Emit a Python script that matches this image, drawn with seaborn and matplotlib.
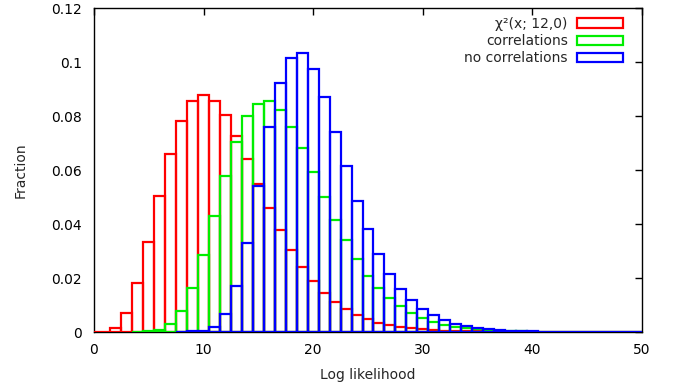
import matplotlib
matplotlib.use("Agg")
import matplotlib.pyplot as plt
from matplotlib.patches import Patch
import seaborn as sns
import pandas as pd

# ---- data (bin centres are integers, bin width 1) ----
red_start = 0
red_vals = [0.0, 0.0001, 0.0015, 0.0071, 0.0180, 0.0334, 0.0504, 0.0661, 0.0781, 0.0854,
            0.0877, 0.0857, 0.0803, 0.0727, 0.0639, 0.0547, 0.0458, 0.0376, 0.0304, 0.0241,
            0.0189, 0.0146, 0.0112, 0.0085, 0.0064, 0.0047, 0.0035, 0.0026, 0.0019, 0.0014,
            0.0010, 0.0007, 0.0005, 0.0004, 0.0002, 0.0002, 0.0001, 0.0001, 0.0, 0.0,
            0.0, 0.0, 0.0, 0.0, 0.0, 0.0, 0.0, 0.0, 0.0, 0.0, 0.0]
green_start = 4
green_vals = [0.0, 0.0002, 0.0007, 0.0031, 0.0077, 0.0163, 0.0284, 0.0428, 0.0578, 0.0704,
              0.0799, 0.0843, 0.0856, 0.0823, 0.0758, 0.0681, 0.0593, 0.0500, 0.0414, 0.0340,
              0.0269, 0.0209, 0.0163, 0.0126, 0.0095, 0.0070, 0.0052, 0.0037, 0.0027, 0.0019,
              0.0014, 0.0010, 0.0006, 0.0004, 0.0003, 0.0002, 0.0001, 0.0001, 0.0, 0.0,
              0.0, 0.0, 0.0, 0.0, 0.0, 0.0, 0.0]
blue_start = 8
blue_vals = [0.0, 0.0002, 0.0005, 0.0019, 0.0067, 0.0169, 0.0330, 0.0542, 0.0758, 0.0922,
             0.1015, 0.1035, 0.0974, 0.0870, 0.0740, 0.0615, 0.0485, 0.0381, 0.0288, 0.0216,
             0.0160, 0.0117, 0.0084, 0.0062, 0.0043, 0.0031, 0.0021, 0.0015, 0.0010, 0.0007,
             0.0005, 0.0003, 0.0002, 0.0001, 0.0001, 0.0, 0.0, 0.0, 0.0, 0.0,
             0.0, 0.0, 0.0]

labels = ["χ²(x; 12,0)", "correlations", "no correlations"]
colors = ["#ff0000", "#00ee00", "#0000ff"]

x_ticks = [0, 10, 20, 30, 40, 50]
y_ticks = [0, 0.02, 0.04, 0.06, 0.08, 0.1, 0.12]
y_tick_labels = ["0", "0.02", "0.04", "0.06", "0.08", "0.1", "0.12"]

sns.set_style("white")
plt.rcParams['font.family'] = ['DejaVu Sans']

fig = plt.figure(figsize=(6.8, 3.92), dpi=100)
ax = fig.add_axes([94 / 680, 1 - 332 / 392, (642 - 94) / 680, (332 - 8) / 392])

series = [(red_start, red_vals), (green_start, green_vals), (blue_start, blue_vals)]
for (start, vals), col in zip(series, colors):
    df = pd.DataFrame({"x": list(range(start, start + len(vals))), "w": vals})
    sns.histplot(data=df, x="x", weights="w", discrete=True, element="bars",
                 fill=False, color=col, linewidth=1.6, ax=ax, zorder=3)

ax.set_xlim(0, 50)
ax.set_ylim(0, 0.12)
ax.set_xticks(x_ticks)
ax.set_xticklabels([str(t) for t in x_ticks])
ax.set_yticks(y_ticks)
ax.set_yticklabels(y_tick_labels)
ax.tick_params(direction="in", length=5, width=1, top=True, right=True,
               labelsize=10, colors="black")
ax.tick_params(axis="x", pad=8)
ax.tick_params(axis="y", pad=8.5)
for s in ax.spines.values():
    s.set_visible(True)
    s.set_color("black")
    s.set_linewidth(1.0)

ax.set_xlabel("Log likelihood", fontsize=10, labelpad=8)
ax.set_ylabel("Fraction", fontsize=10, labelpad=17.5)

handles = [Patch(facecolor="none", edgecolor=c, linewidth=1.6) for c in colors]
ax.legend(handles, labels, loc="upper right", frameon=False, markerfirst=False,
          fontsize=10, handlelength=3.3, handleheight=0.65, labelspacing=0.24,
          handletextpad=0.7, borderaxespad=0.0, bbox_to_anchor=(0.976, 0.99))

fig.savefig("out.png", dpi=100)
